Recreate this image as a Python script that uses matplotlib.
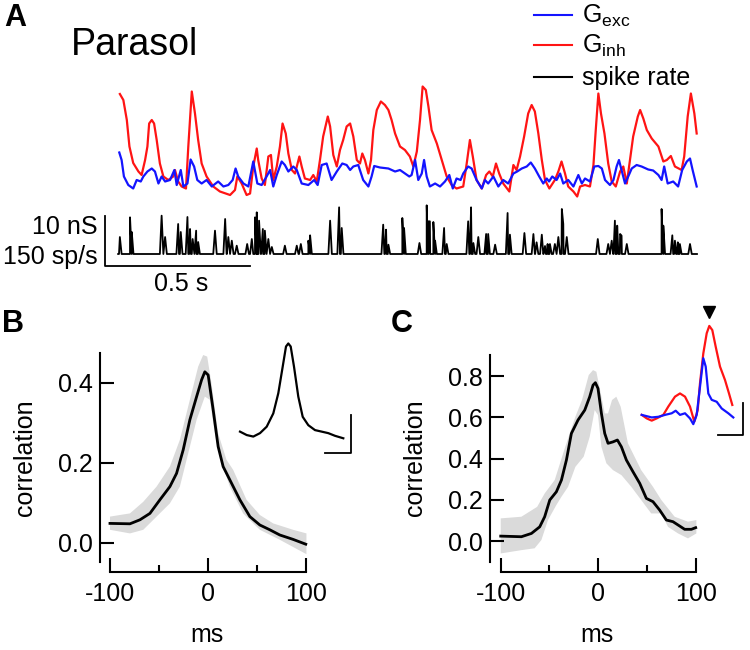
import numpy as np
import matplotlib
matplotlib.use("Agg")
import matplotlib.pyplot as plt
from matplotlib.ticker import FormatStrFormatter

plt.rcParams['font.family'] = ['Liberation Sans', 'DejaVu Sans']
plt.rcParams['mathtext.fontset'] = 'custom'
plt.rcParams['mathtext.rm'] = 'Liberation Sans'
plt.rcParams['axes.unicode_minus'] = False

RED = '#ff1414'
BLUE = '#1414ff'
GRAY = '#dadada'

# ---- panel A: conductances (nS) and spike rate (sp/s) vs time (s)
ginh_t = [0.003, 0.015, 0.027, 0.036, 0.049, 0.067, 0.078, 0.090, 0.098, 0.104, 0.113, 0.121, 0.130, 0.141,
          0.153, 0.170, 0.187, 0.193, 0.204, 0.216, 0.231, 0.239, 0.251, 0.262, 0.273, 0.285, 0.302, 0.325,
          0.348, 0.383, 0.400, 0.408, 0.423, 0.440, 0.452, 0.463, 0.475, 0.480, 0.492, 0.503, 0.515, 0.524,
          0.532, 0.544, 0.555, 0.564, 0.575, 0.584, 0.596, 0.607, 0.622, 0.630, 0.641, 0.659, 0.670, 0.682,
          0.693, 0.704, 0.720, 0.728, 0.739, 0.751, 0.762, 0.773, 0.785, 0.797, 0.808, 0.820, 0.831, 0.839,
          0.848, 0.860, 0.869, 0.877, 0.889, 0.903, 0.917, 0.929, 0.940, 0.952, 0.969, 0.986, 1.003, 1.015,
          1.027, 1.038, 1.047, 1.058, 1.067, 1.078, 1.096, 1.113, 1.130, 1.147, 1.164, 1.187, 1.199, 1.210,
          1.220, 1.233, 1.251, 1.266, 1.277, 1.289, 1.300, 1.311, 1.325, 1.346, 1.360, 1.371, 1.383, 1.397,
          1.411, 1.423, 1.434, 1.446, 1.458, 1.469, 1.484, 1.503, 1.515, 1.526, 1.538, 1.549, 1.567, 1.580,
          1.590, 1.607, 1.624, 1.636, 1.644, 1.653, 1.662, 1.674, 1.687, 1.699, 1.713, 1.728, 1.739, 1.751,
          1.762, 1.773, 1.789, 1.797, 1.808, 1.820, 1.837, 1.860, 1.877, 1.889, 1.903, 1.917, 1.940, 1.949,
          1.961, 1.972, 1.984, 1.992]
ginh_ns = [21.2, 20.0, 16.0, 10.7, 7.4, 5.7, 5.0, 8.0, 10.7, 15.3, 16.0, 15.3, 12.0, 7.3,
           4.7, 4.0, 4.7, 6.0, 3.7, 2.7, 2.3, 10.7, 21.7, 17.3, 12.0, 7.3, 4.7, 2.7,
           1.7, 1.0, 2.0, 4.7, 3.3, 1.0, 1.3, 6.7, 10.3, 8.0, 4.3, 3.0, 8.7, 9.0,
           4.0, 6.7, 10.7, 15.3, 13.3, 9.3, 6.0, 5.3, 8.7, 6.7, 4.3, 4.0, 5.0, 3.7,
           8.0, 12.7, 16.7, 14.7, 9.0, 6.7, 10.0, 12.0, 14.7, 15.3, 12.7, 8.0, 7.3, 9.3,
           8.0, 5.3, 8.0, 14.0, 18.0, 19.7, 19.0, 18.0, 16.0, 13.3, 10.7, 10.0, 8.7, 6.7,
           9.7, 16.0, 22.7, 22.0, 18.7, 14.0, 11.3, 8.0, 4.7, 3.0, 2.3, 2.7, 7.3, 12.0,
           8.7, 4.0, 2.3, 5.0, 5.7, 4.7, 7.3, 5.3, 3.3, 1.7, 7.0, 6.0, 8.7, 12.7,
           17.3, 19.0, 17.7, 13.3, 8.0, 4.0, 2.3, 4.0, 5.7, 7.7, 5.3, 2.7, 1.7, 0.7,
           2.7, 3.0, 2.7, 7.0, 14.0, 21.3, 17.3, 13.3, 7.3, 3.7, 2.7, 5.7, 6.7, 3.3,
           8.0, 12.7, 16.7, 18.0, 16.3, 14.0, 12.3, 10.7, 7.7, 8.0, 8.8, 6.7, 6.0, 8.7,
           16.7, 21.3, 17.3, 13.3]

gexc_t = [0.001, 0.009, 0.017, 0.032, 0.049, 0.061, 0.075, 0.084, 0.098, 0.113, 0.124, 0.136, 0.147, 0.159,
          0.176, 0.191, 0.199, 0.213, 0.222, 0.236, 0.247, 0.259, 0.270, 0.285, 0.302, 0.320, 0.342, 0.360,
          0.377, 0.392, 0.402, 0.411, 0.429, 0.446, 0.463, 0.477, 0.492, 0.509, 0.521, 0.532, 0.544, 0.561,
          0.572, 0.584, 0.601, 0.613, 0.630, 0.653, 0.673, 0.685, 0.699, 0.716, 0.733, 0.751, 0.770, 0.785,
          0.797, 0.808, 0.825, 0.842, 0.860, 0.871, 0.880, 0.900, 0.929, 0.952, 0.969, 0.986, 1.001, 1.009,
          1.021, 1.032, 1.044, 1.052, 1.061, 1.072, 1.090, 1.107, 1.124, 1.139, 1.151, 1.164, 1.178, 1.187,
          1.204, 1.216, 1.233, 1.251, 1.262, 1.273, 1.291, 1.308, 1.325, 1.342, 1.360, 1.373, 1.389, 1.406,
          1.420, 1.434, 1.449, 1.463, 1.475, 1.483, 1.494, 1.509, 1.521, 1.532, 1.549, 1.567, 1.584, 1.596,
          1.607, 1.624, 1.639, 1.653, 1.665, 1.676, 1.693, 1.705, 1.716, 1.724, 1.736, 1.745, 1.756, 1.768,
          1.785, 1.802, 1.825, 1.842, 1.860, 1.871, 1.880, 1.892, 1.911, 1.928, 1.942, 1.958, 1.969, 1.978,
          1.992]
gexc_ns = [9.5, 8.0, 4.7, 3.0, 2.3, 4.0, 3.7, 4.7, 5.7, 6.3, 5.7, 3.3, 4.7, 3.7,
           4.0, 6.0, 3.0, 6.0, 2.7, 3.3, 8.1, 6.7, 4.0, 3.3, 4.0, 2.7, 3.7, 2.7,
           3.0, 4.0, 6.3, 4.7, 3.3, 2.7, 7.7, 3.3, 3.0, 4.7, 6.0, 2.7, 5.0, 7.7,
           7.0, 5.7, 6.7, 6.0, 3.3, 3.0, 4.0, 3.0, 7.0, 7.3, 4.0, 5.7, 7.3, 7.0,
           6.0, 6.7, 7.0, 4.0, 2.7, 4.7, 6.8, 6.5, 6.3, 5.7, 6.0, 5.3, 4.7, 5.0,
           8.0, 4.0, 5.3, 8.0, 4.7, 2.7, 3.3, 2.7, 3.7, 5.0, 2.3, 4.3, 4.0, 5.3,
           6.7, 6.3, 4.0, 2.3, 4.0, 3.3, 4.7, 2.7, 4.0, 3.3, 5.3, 5.7, 6.3, 6.7,
           7.5, 6.3, 4.7, 3.3, 4.3, 3.7, 4.7, 4.0, 5.3, 3.3, 4.0, 2.7, 5.0, 3.3,
           4.3, 3.7, 6.7, 6.8, 6.3, 4.0, 3.0, 4.0, 6.7, 8.0, 5.3, 3.3, 4.7, 6.3,
           7.0, 6.7, 6.1, 5.9, 5.0, 4.0, 6.7, 3.3, 3.7, 2.7, 6.0, 7.7, 8.3, 6.0,
           2.7]

spike_t = [0.003, 0.038, 0.044, 0.147, 0.159, 0.204, 0.213, 0.236, 0.245, 0.254, 0.266, 0.273, 0.331, 0.366,
           0.377, 0.389, 0.406, 0.442, 0.458, 0.469, 0.475, 0.483, 0.496, 0.503, 0.515, 0.527, 0.572, 0.613,
           0.627, 0.653, 0.659, 0.728, 0.759, 0.768, 0.911, 0.921, 0.929, 0.977, 0.983, 1.036, 1.061, 1.067,
           1.072, 1.084, 1.090, 1.121, 1.130, 1.204, 1.214, 1.222, 1.239, 1.266, 1.273, 1.297, 1.340, 1.348,
           1.398, 1.429, 1.440, 1.458, 1.469, 1.478, 1.486, 1.503, 1.515, 1.527, 1.532, 1.544, 1.651, 1.687,
           1.699, 1.710, 1.718, 1.728, 1.733, 1.751, 1.871, 1.877, 1.908, 1.917, 1.927, 1.934, 1.969]
spike_rate = [51, 110, 66, 115, 51, 90, 66, 111, 75, 45, 70, 36, 70, 105,
              51, 40, 25, 30, 45, 110, 125, 100, 75, 70, 45, 21, 25, 25,
              30, 40, 56, 100, 140, 78, 88, 73, 28, 108, 78, 33, 146, 98,
              98, 96, 40, 78, 30, 98, 140, 33, 51, 60, 60, 28, 123, 58,
              63, 60, 35, 58, 24, 30, 30, 30, 51, 135, 90, 51, 45, 30,
              40, 100, 85, 60, 55, 30, 135, 85, 56, 40, 35, 30, 30]

# ---- panel B: correlation vs lag (ms)
b_lag = [-100, -79.6, -69.4, -59.2, -49, -38.8, -32, -25.2, -18.4, -11.5, -6.4, -3.1, 0.3, 5.4,
         10.5, 15.6, 22.4, 32.7, 42.9, 53.1, 63.3, 73.5, 87.1, 100]
b_corr = [0.049, 0.048, 0.058, 0.074, 0.108, 0.141, 0.174, 0.233, 0.308, 0.366, 0.408, 0.428, 0.42, 0.333,
          0.241, 0.191, 0.158, 0.108, 0.066, 0.045, 0.033, 0.02, 0.009, -0.003]
b_hi_lag = [-100, -79.6, -66, -52.4, -38.8, -28.6, -18.4, -9.9, -4.8, -0.7, 3.7, 10.5, 19, 25.8,
            39.5, 53.1, 66.7, 87.1, 100.7]
b_hi = [0.066, 0.074, 0.103, 0.141, 0.191, 0.258, 0.358, 0.441, 0.47, 0.466, 0.399, 0.274, 0.208, 0.183,
        0.108, 0.07, 0.049, 0.033, 0.024]
b_lo_lag = [-100, -79.6, -66, -52.4, -38.8, -28.6, -20.1, -11.5, -3.1, 2, 7.1, 12.2, 22.4, 36,
            53.1, 73.5, 100.7]
b_lo = [0.033, 0.024, 0.033, 0.066, 0.099, 0.141, 0.224, 0.308, 0.366, 0.358, 0.274, 0.216, 0.141, 0.074,
        0.033, 0.008, -0.028]
# inset B (arbitrary units)
bi_t = [-48.3, -41.6, -35, -28.3, -21.6, -15, -10, -5.6, -2.3, 0, 2.4, 5.7, 10, 14.4, 20, 26.7, 33.4, 40, 46.7, 55]
bi_v = [0.22, 0.13, 0.09, 0.18, 0.35, 0.70, 1.23, 1.93, 2.46, 2.54, 2.46, 1.93, 1.14, 0.61, 0.39, 0.26, 0.22,
        0.18, 0.11, 0.045]

# ---- panel C
c_lag = [-100, -78.8, -68.5, -60, -54.9, -49.7, -42.9, -37.7, -32.6, -27.5, -20.7, -13.8, -8.7, -5.3, -2.9,
         -0.2, 3.3, 6.7, 10.1, 15.2, 19.7, 23.8, 28.9, 35.7, 42.6, 49.4, 56.2, 63.1, 69.9, 76.7, 81.9, 88.7,
         95.6, 100]
c_corr = [0.024, 0.021, 0.037, 0.069, 0.118, 0.199, 0.239, 0.296, 0.393, 0.522, 0.587, 0.635, 0.70, 0.756,
          0.768, 0.740, 0.619, 0.522, 0.474, 0.481, 0.490, 0.457, 0.393, 0.336, 0.280, 0.207, 0.191, 0.150,
          0.102, 0.094, 0.078, 0.057, 0.057, 0.065]
c_hi_lag = [-100, -78.8, -62.6, -54.9, -44.6, -33.8, -23.4, -16.6, -9.7, -5.3, -1.9, 3.3, 6.7, 10.1, 14.2,
            18.6, 23.1, 30.5, 44.1, 56.2, 64.8, 78.4, 92.1, 100.7]
c_hi = [0.110, 0.118, 0.166, 0.231, 0.296, 0.457, 0.603, 0.684, 0.805, 0.829, 0.821, 0.70, 0.619, 0.619,
        0.684, 0.70, 0.651, 0.474, 0.344, 0.263, 0.199, 0.118, 0.094, 0.102]
c_lo_lag = [-100, -78.8, -65.2, -58.3, -51.5, -42.9, -37.7, -30.9, -23.4, -14.9, -8.7, -3.6, -0.2, 3.3,
            8.4, 15.2, 23.8, 34, 44.1, 54.4, 64.8, 71.6, 81.9, 92.1, 100.7]
c_lo = [-0.060, -0.044, -0.035, 0.005, 0.102, 0.175, 0.215, 0.263, 0.360, 0.409, 0.506, 0.635, 0.611, 0.457,
        0.377, 0.344, 0.320, 0.263, 0.199, 0.134, 0.134, 0.069, 0.037, 0.013, 0.037]
# inset C (arbitrary units)
ci_inh_t = [-67.6, -62.6, -57.6, -52.6, -46, -41, -34.3, -29.3, -24.3, -19.3, -15, -11.6, -9.3, -6, -2.6,
            0, 3, 6.4, 10.7, 15.7, 19.7, 23]
ci_inh = [0.16, 0.05, -0.02, 0.05, 0.16, 0.42, 0.73, 0.83, 0.73, 0.42, -0.05, 0.31, 1.15, 2.08, 2.71,
          2.94, 2.81, 2.29, 1.67, 1.25, 0.83, 0.47]
ci_exc_t = [-67.6, -57.6, -51, -44.3, -37.6, -33.6, -29.3, -24.3, -19.3, -16, -12.6, -9.3, -6, -3.6, -1,
            2.4, 7.4, 12.4, 19, 24]
ci_exc = [0.16, 0.08, 0.10, 0.16, 0.21, 0.29, 0.16, 0.21, 0.05, -0.13, 0.16, 1.04, 1.93, 1.67, 0.83,
          0.63, 0.57, 0.36, 0.21, 0.08]

fig = plt.figure(figsize=(7.5, 6.5), dpi=100)
W, H = 750.0, 650.0


def px_axes(l, t, r, b):
    ax = fig.add_axes([l / W, 1 - b / H, (r - l) / W, (b - t) / H])
    ax.patch.set_alpha(0)
    return ax


def ftext(x, y, s, **kw):
    fig.text(x / W, 1 - y / H, s, **kw)


# ---------------- panel A
axA = px_axes(100, 80, 705, 275)
axA.set_xlim(-0.0655, 2.0207)
axA.set_ylim(-15, 24)
axA.axis('off')
axA.plot(ginh_t, ginh_ns, color=RED, lw=1.6)
axA.plot(gexc_t, gexc_ns, color=BLUE, lw=1.6)

# spike rate trace drawn 10.8 nS below, 150 sp/s shown as 10 nS
pts = [(0.0, 0.0), (1.993, 0.0)]
for t, r in zip(spike_t, spike_rate):
    pts += [(t - 0.006, 0.0), (t, r), (t + 0.006, 0.0)]
pts.sort()
st = np.array([p[0] for p in pts])
sr = np.array([p[1] for p in pts])
axA.plot(st, -10.8 + sr * 10 / 150, color='black', lw=1.3)

# scale bars
axA.plot([-0.048, -0.048, 0.452], [-3.2, -13.2, -13.2], color='black', lw=1.3, clip_on=False)
ftext(98, 227, '10 nS', ha='right', va='center', fontsize=18)
ftext(98, 257, '150 sp/s', ha='right', va='center', fontsize=18)
ftext(181, 284, '0.5 s', ha='center', va='center', fontsize=18)

ftext(4, 18, 'A', ha='left', va='center', fontsize=22, fontweight='bold')
ftext(71, 45, 'Parasol', ha='left', va='center', fontsize=27)

# legend
for y, c, s in [(15, BLUE, r'G$_{\mathrm{exc}}$'), (45, RED, r'G$_{\mathrm{inh}}$'), (77, 'black', 'spike rate')]:
    fig.lines.append(plt.Line2D([534 / W, 572 / W], [1 - y / H, 1 - y / H], color=c, lw=1.5,
                                transform=fig.transFigure))
    ftext(582, y + 1, s, ha='left', va='center', fontsize=18)


# ---------------- correlation panels
def style_corr(ax, yticks, ybounds):
    for s in ['top', 'right']:
        ax.spines[s].set_visible(False)
    for s in ['left', 'bottom']:
        ax.spines[s].set_linewidth(1.5)
    ax.spines['left'].set_bounds(*ybounds)
    ax.spines['bottom'].set_bounds(-100, 100)
    ax.set_xticks([-100, 0, 100])
    ax.set_xticks([-50, 50], minor=True)
    ax.set_yticks(yticks)
    ax.yaxis.set_major_formatter(FormatStrFormatter('%.1f'))
    ax.tick_params(which='major', direction='in', length=10, width=1.5, labelsize=18)
    ax.tick_params(which='minor', direction='in', length=5, width=1.5)
    ax.tick_params(axis='x', pad=7)
    ax.tick_params(axis='y', pad=5)


axB = px_axes(100, 353, 308.7, 572)
axB.set_xlim(-110.2, 103)
axB.set_ylim(-0.0725, 0.475)
axB.fill(b_hi_lag + b_lo_lag[::-1], b_hi + b_lo[::-1], color=GRAY, lw=0)
axB.plot(b_lag, b_corr, color='black', lw=2)
style_corr(axB, [0.0, 0.2, 0.4], (-0.0475, 0.475))
ftext(25, 458, 'correlation', rotation=90, ha='center', va='center', fontsize=18)
ftext(207, 635, 'ms', ha='center', va='center', fontsize=18)
ftext(2, 324, 'B', ha='left', va='center', fontsize=22, fontweight='bold')

axBi = px_axes(235, 338, 355, 458)
axBi.set_xlim(-53.3, 66.7)
axBi.set_ylim(-0.474, 2.684)
axBi.axis('off')
axBi.plot(bi_t, bi_v, color='black', lw=1.6)
axBi.plot([36.7, 62.7, 62.7], [-0.34, -0.34, 0.66], color='black', lw=1.3)

axC = px_axes(490, 353.4, 698.6, 572)
axC.set_xlim(-111, 103)
axC.set_ylim(-0.15, 0.91)
axC.fill(c_hi_lag + c_lo_lag[::-1], c_hi + c_lo[::-1], color=GRAY, lw=0)
axC.plot(c_lag, c_corr, color='black', lw=2)
style_corr(axC, [0.0, 0.2, 0.4, 0.6, 0.8], (-0.102, 0.902))
ftext(415, 458, 'correlation', rotation=90, ha='center', va='center', fontsize=18)
ftext(597, 635, 'ms', ha='center', va='center', fontsize=18)
ftext(391, 324, 'C', ha='left', va='center', fontsize=22, fontweight='bold')

axCi = px_axes(635, 305, 748, 440)
axCi.set_xlim(-74.3, 38.7)
axCi.set_ylim(-0.625, 3.594)
axCi.axis('off')
axCi.plot(ci_inh_t, ci_inh, color=RED, lw=1.6)
axCi.plot(ci_exc_t, ci_exc, color=BLUE, lw=1.6)
axCi.plot([8.7, 33.7, 33.7], [-0.47, -0.47, 0.53], color='black', lw=1.3)
axCi.plot([0], [3.375], marker='v', color='black', markersize=8, clip_on=False)

fig.savefig('out.png', dpi=100)
